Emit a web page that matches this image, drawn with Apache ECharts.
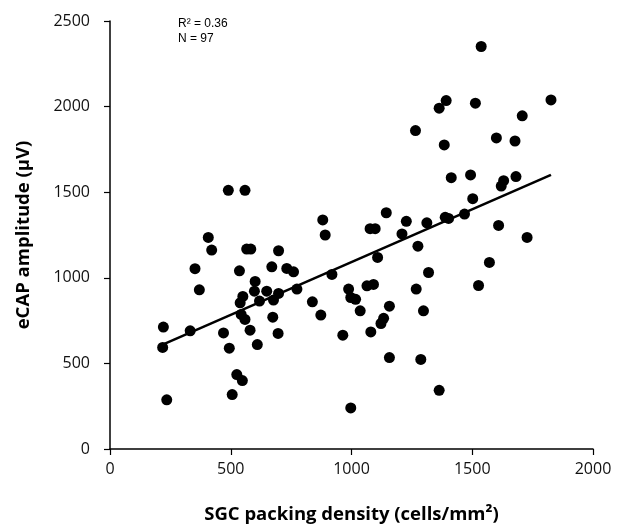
<!DOCTYPE html>
<html>
<head>
<meta charset="utf-8">
<script src="https://cdn.jsdelivr.net/npm/echarts@6/dist/echarts.min.js"></script>
<style>html,body{margin:0;padding:0;background:#fff}#c{width:619px;height:529px}</style>
</head>
<body>
<div id="c"></div>
<script>
// SGC packing density (cells/mm²)
const densityX = [407,421,352,370,221,218,332,235,470,494,506,525,548,536,566,583,601,550,539,543,559,580,610,598,619,649,670,698,677,698,674,696,732,760,774,838,873,919,891,881,964,988,997,1017,1036,997,490,559,1537,1392,1363,1513,1826,1265,1707,1384,1600,1677,1413,1493,1630,1620,1681,1502,1144,1227,1312,1388,1402,1468,1609,1077,1098,1209,1727,1275,1108,1571,1319,1526,1268,1064,1091,1157,1133,1122,1298,1080,1157,1287,1363];
// eCAP amplitude (µV)
const ecapY = [1236,1162,1053,930,712,593,690,287,678,589,318,435,400,1041,1168,1168,979,891,854,786,757,694,610,922,864,922,1064,1158,870,909,770,675,1055,1035,934,860,782,1020,1250,1338,665,934,885,874,807,240,1511,1511,2351,2035,1991,2020,2039,1860,1946,1776,1817,1799,1585,1601,1567,1536,1591,1462,1380,1330,1321,1353,1347,1372,1306,1287,1287,1256,1236,1185,1119,1090,1031,955,934,953,961,834,763,733,807,684,534,523,343];
// linear trend line endpoints
const trendX = [218, 1826];
const trendY = [610, 1601];
const xTicks = [0, 500, 1000, 1500, 2000];
const yTicks = [0, 500, 1000, 1500, 2000, 2500];
const statsText = ['R\u00B2 = 0.36', 'N = 97'];

const pts = densityX.map((x, i) => [x, ecapY[i]]);
const line = trendX.map((x, i) => [x, trendY[i]]);

const chart = echarts.init(document.getElementById('c'), null, {renderer: 'canvas'});
const labelFont = '"Open Sans", "Noto Sans", sans-serif';
const plain = v => String(v);
chart.setOption({
  animation: false,
  grid: {left: 110, right: 26, top: 21, bottom: 80},
  xAxis: {
    type: 'value', min: xTicks[0], max: xTicks[xTicks.length - 1], interval: 500,
    name: 'SGC packing density (cells/mm\u00B2)', nameLocation: 'middle', nameGap: 56,
    nameTextStyle: {fontFamily: labelFont, fontWeight: 'bold', fontSize: 18.5, color: '#000'},
    axisLine: {show: true, onZero: false, lineStyle: {color: '#000', width: 1.5}},
    axisTick: {show: true, inside: false, length: 6, lineStyle: {color: '#000', width: 1.2}},
    axisLabel: {fontFamily: labelFont, fontSize: 16, color: '#111', margin: 12, formatter: plain},
    splitLine: {show: false}
  },
  yAxis: {
    type: 'value', min: yTicks[0], max: yTicks[yTicks.length - 1], interval: 500,
    name: 'eCAP amplitude (\u00B5V)', nameLocation: 'middle', nameGap: 77,
    nameTextStyle: {fontFamily: labelFont, fontWeight: 'bold', fontSize: 18.5, color: '#000'},
    axisLine: {show: true, onZero: false, lineStyle: {color: '#000', width: 1.5}},
    axisTick: {show: true, inside: false, length: 6, lineStyle: {color: '#000', width: 1.2}},
    axisLabel: {fontFamily: labelFont, fontSize: 16, color: '#111', margin: 20, formatter: plain},
    splitLine: {show: false}
  },
  graphic: [
    {type: 'text', left: 178, top: 18, style: {text: statsText[0], font: '12px "Liberation Sans", Arial, sans-serif', fill: '#000'}},
    {type: 'text', left: 178, top: 33, style: {text: statsText[1], font: '12px "Liberation Sans", Arial, sans-serif', fill: '#000'}}
  ],
  series: [
    {
      type: 'scatter', data: pts, symbol: 'circle', symbolSize: 11,
      itemStyle: {color: '#000', opacity: 1}, z: 3
    },
    {
      type: 'line', data: line, symbol: 'none', z: 4,
      lineStyle: {color: '#000', width: 2.5}
    }
  ]
});
</script>
</body>
</html>
